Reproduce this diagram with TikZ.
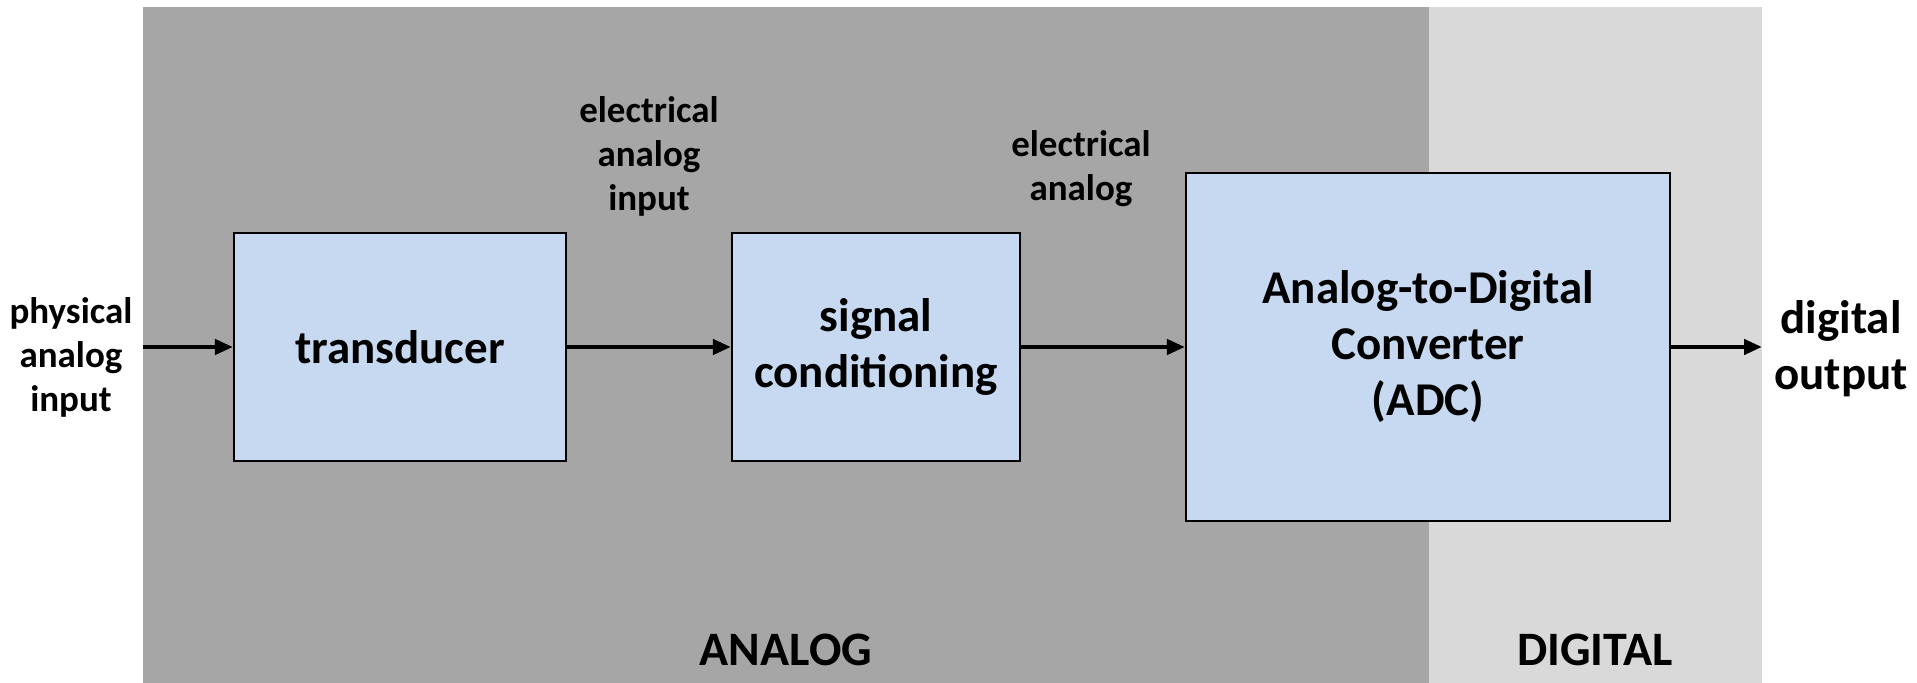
\documentclass[tikz,border=0pt]{standalone}
\usepackage{fontspec}
\setmainfont{Carlito}
\usepackage{xcolor}
\usetikzlibrary{arrows.meta,positioning}
\definecolor{analoggray}{HTML}{A6A6A6}
\definecolor{digitalgray}{HTML}{D9D9D9}
\definecolor{boxblue}{HTML}{C6D9F0}
\begin{document}
\begin{tikzpicture}[x=0.5pt, y=-0.5pt, font=\bfseries,
  blk/.style={draw=black, line width=1.1pt, fill=boxblue, align=center,
    inner sep=0pt, font=\bfseries\fontsize{23.5}{28}\selectfont},
  lab/.style={align=center, font=\bfseries\fontsize{18.5}{22}\selectfont},
  sig/.style={-{Triangle[length=9pt, width=7.5pt]}, line width=2.2pt}]
\useasboundingbox (0,0) rectangle (1917,683);
% ---- domains ----
\fill[analoggray] (143,7) rectangle (1429,683);
\fill[digitalgray] (1429,7) rectangle (1762,683);
\node[font=\bfseries\fontsize{24}{28}\selectfont] (analog) at (786,650) {ANALOG};
\node[font=\bfseries\fontsize{24}{28}\selectfont] (digital) at (1595,650) {DIGITAL};
% ---- blocks ----
\node[blk, minimum width=166pt, minimum height=114pt] (trans) at (400,347) {transducer};
\node[blk, minimum width=144pt, minimum height=114pt] (cond) at (876,347) {signal\\conditioning};
\node[blk, minimum width=242pt, minimum height=174pt] (adc) at (1428,347) {Analog-to-Digital\\Converter\\(ADC)};
% ---- ends ----
\coordinate (in) at (143,347);
\coordinate (out) at (1762,347);
\node[lab] (inlab) at (71,357) {physical\\analog\\input};
\node[blk, draw=none, fill=none] (outlab) at (1841,349) {digital\\output};
% ---- signal labels ----
\node[lab] (elin) at (649,156) {electrical\\analog\\input};
\node[lab] (elan) at (1081,169) {electrical\\analog};
% ---- connectors ----
\draw[sig] (in) -- (trans.west);
\draw[sig] (trans.east) -- (cond.west);
\draw[sig] (cond.east) -- (adc.west);
\draw[sig] (adc.east) -- (out);
\end{tikzpicture}
\end{document}
